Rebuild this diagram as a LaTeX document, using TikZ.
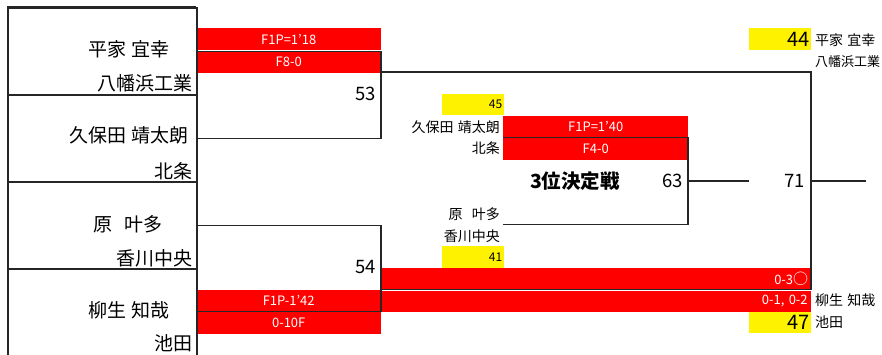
\documentclass[tikz,border=0pt]{standalone}
\usepackage{fontspec}
\setmainfont{Noto Sans CJK JP}
\begin{document}
\begin{tikzpicture}[x=1pt,y=-1pt,
  line/.style={line width=1.5pt, draw=black!85},
  frame/.style={line width=1.8pt, draw=black!85},
  pbox/.style={draw=black!85, line width=1.6pt, minimum width=189pt, minimum height=87pt, anchor=north west, inner sep=0pt},
  bar/.style={fill=red, draw=none, inner sep=0pt, anchor=north west, text=white, font=\fontsize{13}{13}\selectfont},
  ybox/.style={fill=yellow, draw=none, inner sep=0pt, anchor=north west, minimum width=62pt, minimum height=21.5pt, text width=58pt, align=right},
  bigname/.style={inner sep=0pt, font=\fontsize{19}{19}\selectfont},
  small/.style={inner sep=0pt, font=\fontsize{14}{14}\selectfont},
  num/.style={inner sep=0pt, anchor=east, font=\fontsize{18.5}{18.5}\selectfont},
]
\useasboundingbox (0,0) rectangle (882,354);
% red bars
\node[bar, minimum width=185pt, minimum height=22pt] (r1) at (196,28) {F1P=1'18};
\node[bar, minimum width=185pt, minimum height=22.3pt] (r2) at (196,50.7) {F8-0};
\node[bar, minimum width=185pt, minimum height=21.5pt] (r3) at (503,116) {F1P=1'40};
\node[bar, minimum width=185pt, minimum height=22pt] (r4) at (503,138) {F4-0};
\node[bar, minimum width=430pt, minimum height=21.3pt, text width=424pt, align=right] (r5) at (381,268) {0-3{\fontsize{15}{15}\selectfont ○}};
\node[bar, minimum width=430pt, minimum height=21pt, text width=423pt, align=right] (r6) at (381,290.5) {0-1, 0-2};
\node[bar, minimum width=185pt, minimum height=22pt] (r7) at (196,289.3) {F1P-1'42};
\node[bar, minimum width=185pt, minimum height=22pt] (r8) at (196,312) {0-10F};
% yellow boxes
\node[ybox, font=\fontsize{12}{12}\selectfont] (y45) at (442,93.3) {45};
\node[ybox, font=\fontsize{12}{12}\selectfont] (y41) at (442,246) {41};
\node[ybox, font=\fontsize{20}{20}\selectfont] (y44) at (749,28) {44};
\node[ybox, font=\fontsize{20}{20}\selectfont] (y47) at (749,311.5) {47};
% player boxes
\node[pbox] (p1) at (7,7) {};
\node[pbox] (p2) at (7,94) {};
\node[pbox] (p3) at (7,181) {};
\node[pbox, minimum height=110pt] (p4) at (7,268) {};
\draw[frame] (7,7) -- (196,7);
% names
\node[bigname] (n1) at (129,49) {平家\hspace{0.3em}宜幸};
\node[bigname, anchor=east] (s1) at (193,83) {八幡浜工業};
\node[bigname] (n2) at (129,135) {久保田\hspace{0.3em}靖太朗};
\node[bigname, anchor=east] (s2) at (193,171) {北条};
\node[bigname] (n3) at (128,224) {原\hspace{0.65em}叶多};
\node[bigname, anchor=east] (s3) at (193,258) {香川中央};
\node[bigname] (n4) at (129,310) {柳生\hspace{0.3em}知哉};
\node[bigname, anchor=east] (s4) at (193,343) {池田};
% middle names
\node[small, anchor=east] (m1) at (500,127) {久保田\hspace{0.3em}靖太朗};
\node[small, anchor=east] (m2) at (500,148.5) {北条};
\node[small, anchor=east] (m3) at (500,214) {原\hspace{0.65em}叶多};
\node[small, anchor=east] (m4) at (500,236) {香川中央};
% right names
\node[small, anchor=west] (w1) at (815,40) {平家\hspace{0.3em}宜幸};
\node[small, anchor=west, font=\fontsize{13}{13}\selectfont] (w2) at (815,62) {八幡浜工業};
\node[small, anchor=west] (w3) at (815,300.5) {柳生\hspace{0.3em}知哉};
\node[small, anchor=west] (w4) at (815,322.5) {池田};
% numbers
\node[num] (g53) at (376,94) {53};
\node[num] (g54) at (376,267.5) {54};
\node[num] (g63) at (683,181) {63};
\node[num] (g71) at (805,181) {71};
\node[inner sep=0pt, font=\fontsize{19.5}{19.5}\selectfont\bfseries] (third) at (575,181) {3位決定戦};
% junctions
\coordinate (j53) at (381,72);
\coordinate (j54) at (381,289.5);
\coordinate (f53) at (811,72);
\coordinate (f54) at (811,289.5);
\coordinate (j71) at (811,181);
\coordinate (o71) at (866,181);
\coordinate (t1) at (503,137.5);
\coordinate (t2) at (503,224.7);
\coordinate (j63) at (688,181);
\coordinate (o63) at (749,181);
% connectors
\draw[line] (p1.east) -| (j53) |- (p2.east);
\draw[line] (p3.east) -| (j54) |- (p4.east |- 311.5,311.5);
\draw[line] (j53) -- (f53) -- (f54) -- (j54);
\draw[line] (j71) -- (o71);
\draw[line] (t1) -| (j63) |- (t2);
\draw[line] (j63) -- (o63);
\end{tikzpicture}
\end{document}
